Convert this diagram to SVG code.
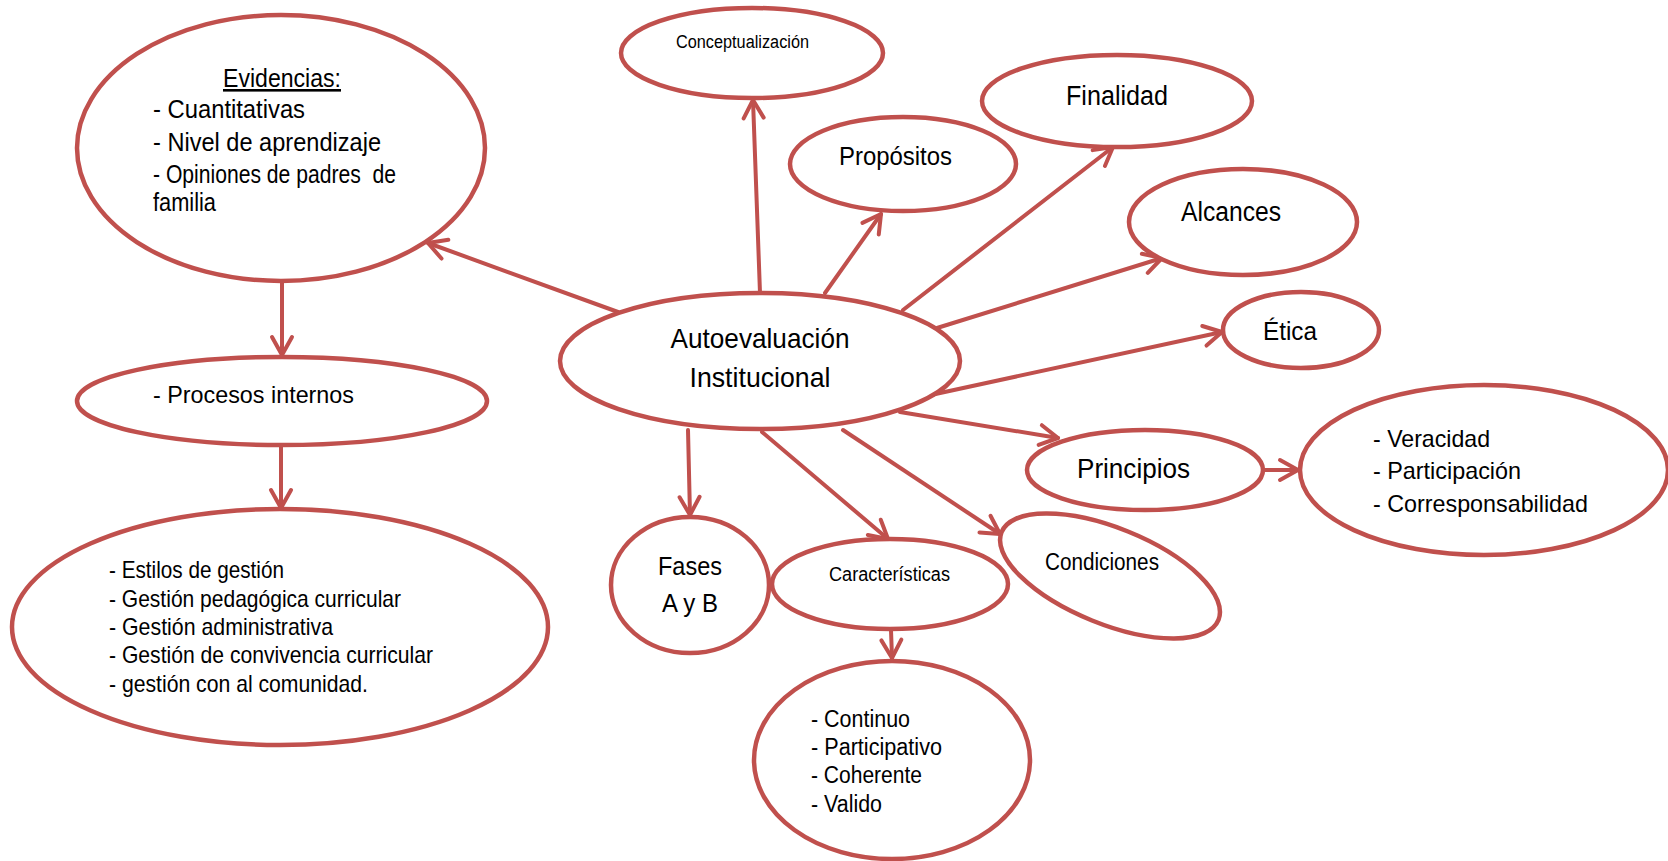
<svg xmlns="http://www.w3.org/2000/svg" width="1668" height="861" viewBox="0 0 1668 861">
<style>
.n{fill:#fff;stroke:#C0504D;stroke-width:4.5}
.c{fill:none;stroke:#C0504D;stroke-width:4;stroke-linecap:round;marker-end:url(#ah)}
text{font-family:"Liberation Sans","Arial",sans-serif;fill:#000}
.m{text-anchor:middle}
</style>
<defs>
<marker id="ah" markerUnits="userSpaceOnUse" viewBox="-24 -14 28 28" refX="0" refY="0" markerWidth="28" markerHeight="28" orient="auto">
<path d="M-18,-10 L0,0 L-18,10" fill="none" stroke="#C0504D" stroke-width="4" stroke-linecap="round" stroke-linejoin="round"/>
</marker>
</defs>
<rect width="1668" height="861" fill="#fff"/>
<g id="connectors">
<path class="c" d="M618,312 L428,243"/>
<path class="c" d="M760,293 L753,100"/>
<path class="c" d="M825,293 L881,214"/>
<path class="c" d="M903,310 L1113,147"/>
<path class="c" d="M937,328 L1162,258"/>
<path class="c" d="M917,398 L1222,332"/>
<path class="c" d="M900,412 L1058,438"/>
<path class="c" d="M1263,470 L1298,470"/>
<path class="c" d="M688,430 L690,515"/>
<path class="c" d="M762,432 L888,539"/>
<path class="c" d="M843,430 L1000,534"/>
<path class="c" d="M891,630 L892,658"/>
<path class="c" d="M282,280 L282,355"/>
<path class="c" d="M281,447 L281,508"/>
</g>
<g id="evidencias">
<ellipse class="n" cx="281" cy="148" rx="204" ry="133"/>
<text class="m" x="282" y="87" font-size="26" textLength="118" lengthAdjust="spacingAndGlyphs" text-decoration="underline">Evidencias:</text>
<text x="153" y="118" font-size="26" textLength="152" lengthAdjust="spacingAndGlyphs">- Cuantitativas</text>
<text x="153" y="151" font-size="26" textLength="228" lengthAdjust="spacingAndGlyphs">- Nivel de aprendizaje</text>
<text x="153" y="183" font-size="26" textLength="243" lengthAdjust="spacingAndGlyphs" xml:space="preserve">- Opiniones de padres  de</text>
<text x="153" y="211" font-size="26" textLength="63" lengthAdjust="spacingAndGlyphs">familia</text>
</g>
<g id="procesos">
<ellipse class="n" cx="282" cy="401" rx="205" ry="44"/>
<text x="153" y="403" font-size="24" textLength="201" lengthAdjust="spacingAndGlyphs">- Procesos internos</text>
</g>
<g id="gestion">
<ellipse class="n" cx="280" cy="627" rx="268" ry="118"/>
<text x="109" y="578" font-size="24" textLength="175" lengthAdjust="spacingAndGlyphs">- Estilos de gestión</text>
<text x="109" y="607" font-size="24" textLength="292" lengthAdjust="spacingAndGlyphs">- Gestión pedagógica curricular</text>
<text x="109" y="635" font-size="24" textLength="224" lengthAdjust="spacingAndGlyphs">- Gestión administrativa</text>
<text x="109" y="663" font-size="24" textLength="324" lengthAdjust="spacingAndGlyphs">- Gestión de convivencia curricular</text>
<text x="109" y="692" font-size="24" textLength="259" lengthAdjust="spacingAndGlyphs">- gestión con al comunidad.</text>
</g>
<g id="conceptualizacion">
<ellipse class="n" cx="752" cy="53" rx="131" ry="45"/>
<text x="676" y="48" font-size="18" textLength="133" lengthAdjust="spacingAndGlyphs">Conceptualización</text>
</g>
<g id="propositos">
<ellipse class="n" cx="903" cy="164" rx="113" ry="47"/>
<text x="839" y="165" font-size="25" textLength="113" lengthAdjust="spacingAndGlyphs">Propósitos</text>
</g>
<g id="finalidad">
<ellipse class="n" cx="1117" cy="101" rx="135" ry="46"/>
<text x="1066" y="105" font-size="27" textLength="102" lengthAdjust="spacingAndGlyphs">Finalidad</text>
</g>
<g id="alcances">
<ellipse class="n" cx="1243" cy="222" rx="114" ry="53"/>
<text x="1181" y="221" font-size="27" textLength="100" lengthAdjust="spacingAndGlyphs">Alcances</text>
</g>
<g id="etica">
<ellipse class="n" cx="1301" cy="330" rx="78" ry="38"/>
<text x="1263" y="340" font-size="26" textLength="54" lengthAdjust="spacingAndGlyphs">Ética</text>
</g>
<g id="autoevaluacion">
<ellipse class="n" cx="760" cy="361" rx="200" ry="68"/>
<text class="m" x="760" y="348" font-size="28" textLength="179" lengthAdjust="spacingAndGlyphs">Autoevaluación</text>
<text class="m" x="760" y="387" font-size="28" textLength="141" lengthAdjust="spacingAndGlyphs">Institucional</text>
</g>
<g id="principios">
<ellipse class="n" cx="1145" cy="470" rx="118" ry="40"/>
<text x="1077" y="478" font-size="27" textLength="113" lengthAdjust="spacingAndGlyphs">Principios</text>
</g>
<g id="valores">
<ellipse class="n" cx="1484" cy="470" rx="184" ry="85"/>
<text x="1373" y="447" font-size="24" textLength="117" lengthAdjust="spacingAndGlyphs">- Veracidad</text>
<text x="1373" y="479" font-size="24" textLength="148" lengthAdjust="spacingAndGlyphs">- Participación</text>
<text x="1373" y="512" font-size="24" textLength="215" lengthAdjust="spacingAndGlyphs">- Corresponsabilidad</text>
</g>
<g id="condiciones">
<ellipse class="n" cx="1110" cy="576" rx="117" ry="48" transform="rotate(22 1110 576)"/>
<text x="1045" y="570" font-size="23" textLength="114" lengthAdjust="spacingAndGlyphs">Condiciones</text>
</g>
<g id="fases">
<ellipse class="n" cx="690" cy="585" rx="79" ry="68"/>
<text class="m" x="690" y="575" font-size="25" textLength="64" lengthAdjust="spacingAndGlyphs">Fases</text>
<text class="m" x="690" y="612" font-size="25" textLength="56" lengthAdjust="spacingAndGlyphs">A y B</text>
</g>
<g id="caracteristicas">
<ellipse class="n" cx="890" cy="584" rx="118" ry="45"/>
<text x="829" y="581" font-size="20" textLength="121" lengthAdjust="spacingAndGlyphs">Características</text>
</g>
<g id="continuo">
<ellipse class="n" cx="892" cy="760" rx="138" ry="99"/>
<text x="811" y="727" font-size="23" textLength="99" lengthAdjust="spacingAndGlyphs">- Continuo</text>
<text x="811" y="755" font-size="23" textLength="131" lengthAdjust="spacingAndGlyphs">- Participativo</text>
<text x="811" y="783" font-size="23" textLength="111" lengthAdjust="spacingAndGlyphs">- Coherente</text>
<text x="811" y="812" font-size="23" textLength="71" lengthAdjust="spacingAndGlyphs">- Valido</text>
</g>
</svg>
